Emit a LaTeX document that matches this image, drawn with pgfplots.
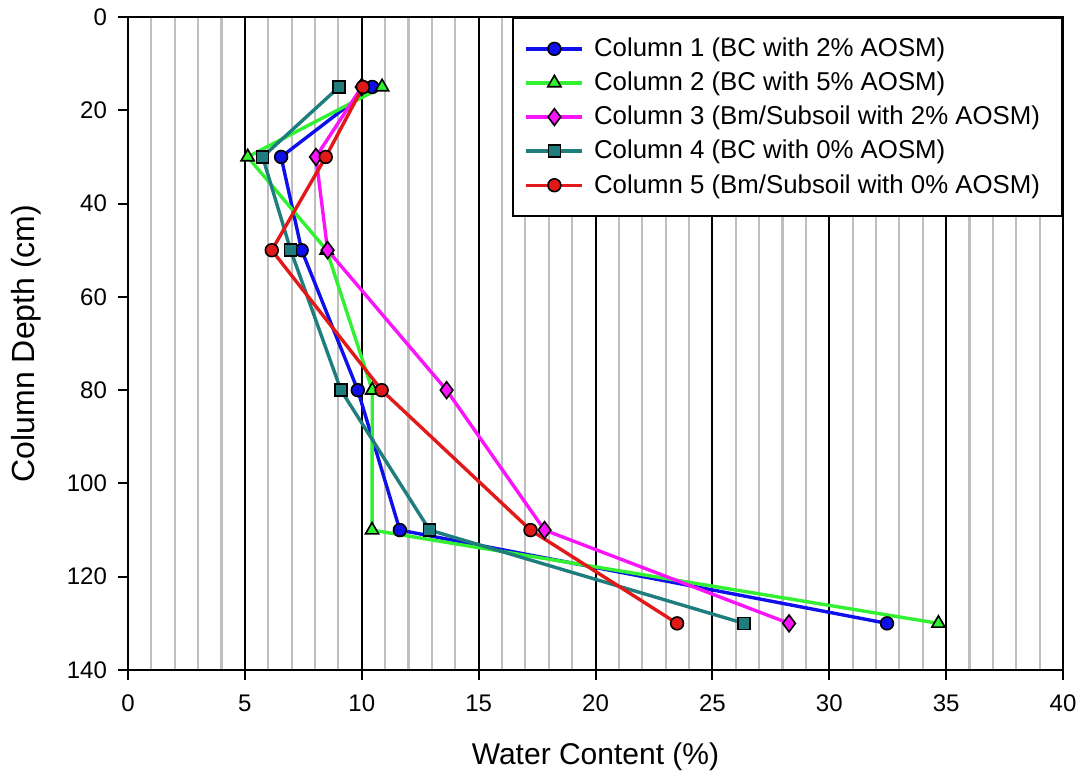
\documentclass[border=0pt]{standalone}
\usepackage{fontspec}
\setmainfont{Liberation Sans}
\usepackage{pgfplots}
\pgfplotsset{compat=1.18}
\definecolor{c1}{RGB}{15,15,235}
\definecolor{c2}{RGB}{50,240,50}
\definecolor{c3}{RGB}{250,20,250}
\definecolor{c4}{RGB}{30,125,125}
\definecolor{c5}{RGB}{225,25,25}
\begin{document}
\begin{tikzpicture}
\useasboundingbox (-64pt,-56pt) rectangle (476pt,335pt);
\begin{axis}[
  name=ax,
  at={(0,0)}, anchor=south west,
  scale only axis,
  width=467.5pt, height=326.5pt,
  xmin=0, xmax=40, ymin=0, ymax=140,
  y dir=reverse,
  xtick={0,5,...,40}, ytick={0,20,...,140},
  minor x tick num=4,
  xmajorgrids, xminorgrids,
  major grid style={black, line width=1pt},
  minor grid style={black!25, line width=1.1pt},
  tick align=outside,
  xtick pos=bottom, ytick pos=left,
  major tick length=5pt, minor tick length=0pt,
  every tick/.style={black, line width=1pt},
  axis line style={line width=1.2pt},
  /pgf/number format/assume math mode=true,
  tick label style={font=\fontsize{12}{14}\selectfont},
  xticklabel style={yshift=-4pt},
  yticklabel style={xshift=-2pt},
  legend style={at={(1,1)}, anchor=north east, draw=black, line width=1pt,
    font=\fontsize{12.9}{15}\selectfont, row sep=2.2pt,
    inner xsep=6pt, inner ysep=8pt, fill=white,
    nodes={inner xsep=5pt}},
  legend cell align=left,
  legend image code/.code={
    \draw[mark repeat=2, mark phase=2] plot coordinates {(0pt,0pt) (14pt,0pt) (28pt,0pt)};
  },
  every axis plot/.append style={line width=1.7pt},
]
\addplot[c1, mark=*, mark size=3.2pt, mark options={fill=c1, draw=black, line width=0.8pt, solid}] coordinates {
 (10.45,15) (6.55,30) (7.43,50) (9.83,80) (11.63,110) (32.47,130)};
\addlegendentry{Column 1 (BC with 2\% AOSM)}
\addplot[c2, mark=triangle*, mark size=3.8pt, mark options={fill=c2, draw=black, line width=0.8pt, solid}] coordinates {
 (10.87,15) (5.12,30) (8.5,50) (10.45,80) (10.44,110) (34.67,130)};
\addlegendentry{Column 2 (BC with 5\% AOSM)}
\addplot[c3, mark=diamond*, mark size=4.2pt, mark options={fill=c3, draw=black, line width=0.8pt, solid}] coordinates {
 (10.0,15) (8.04,30) (8.54,50) (13.63,80) (17.82,110) (28.28,130)};
\addlegendentry{Column 3 (Bm/Subsoil with 2\% AOSM)}
\addplot[c4, mark=square*, mark size=3pt, mark options={fill=c4, draw=black, line width=0.8pt, solid}] coordinates {
 (9.03,15) (5.76,30) (6.96,50) (9.11,80) (12.9,110) (26.35,130)};
\addlegendentry{Column 4 (BC with 0\% AOSM)}
\addplot[c5, mark=*, mark size=3.2pt, mark options={fill=c5, draw=black, line width=0.8pt, solid}] coordinates {
 (10.05,15) (8.46,30) (6.15,50) (10.85,80) (17.22,110) (23.49,130)};
\addlegendentry{Column 5 (Bm/Subsoil with 0\% AOSM)}
\end{axis}
\node[font=\fontsize{15}{18}\selectfont] at ([yshift=-43.5pt]ax.south) {Water Content (\%)};
\node[font=\fontsize{16}{19}\selectfont, rotate=90] at ([xshift=-51pt]ax.west) {Column Depth (cm)};
\end{tikzpicture}
\end{document}
